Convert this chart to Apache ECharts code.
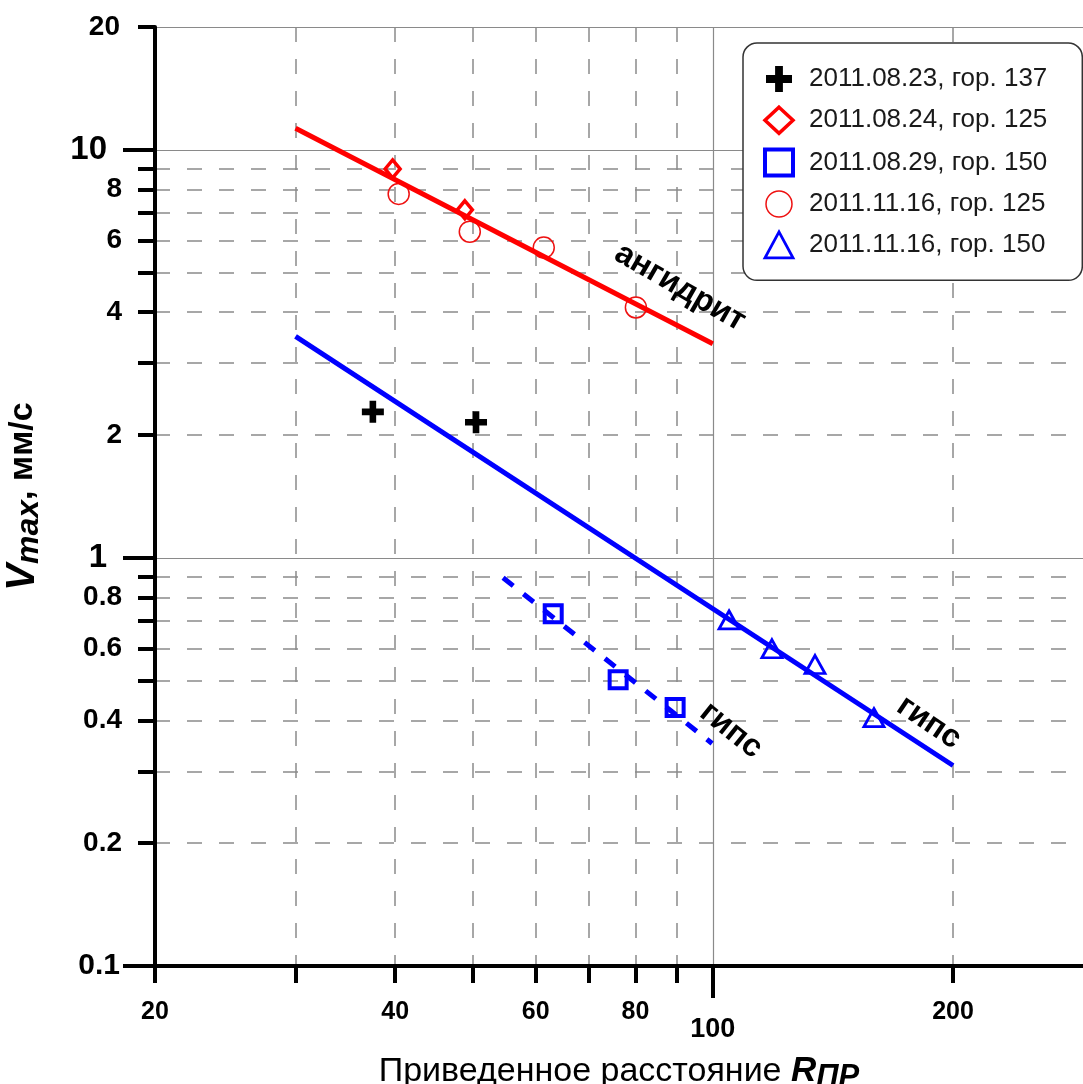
<!DOCTYPE html>
<html><head><meta charset="utf-8">
<script src="https://cdn.jsdelivr.net/npm/echarts@6/dist/echarts.min.js"></script>
<style>html,body{margin:0;padding:0;background:#fff}#c{width:1083px;height:1084px}</style>
</head><body><div id="c"></div>
<script>
// ---- axis ticks / labels ----
const xMinorTicks = [20, 30, 40, 50, 60, 70, 80, 90, 200];
const xMinorLabels = [20, 40, 60, 80, 200];
const xMajorTicks = [100];
const xDashedGrid = [30, 40, 50, 60, 70, 80, 90, 200];
const xSolidGrid = [100];

const yMinorTicks = [0.2, 0.3, 0.4, 0.5, 0.6, 0.7, 0.8, 0.9, 2, 3, 4, 5, 6, 7, 8, 9, 20];
const yMinorLabels = [0.2, 0.4, 0.6, 0.8, 2, 4, 6, 8];
const yMajorTicks = [0.1, 1, 10];
const yMajorLabels = [1, 10];
const yEdgeLabels = [0.1, 20];
const yDashedGrid = [0.2, 0.3, 0.4, 0.5, 0.6, 0.7, 0.8, 0.9, 2, 3, 4, 5, 6, 7, 8, 9];
const ySolidGrid = [1, 10, 20];

// ---- series ----
const seriesNames = ['2011.08.23, гор. 137', '2011.08.24, гор. 125', '2011.08.29, гор. 150', '2011.11.16, гор. 125', '2011.11.16, гор. 150'];
const s1x = [37.5, 50.5];            const s1y = [2.28, 2.15];
const s2x = [39.7, 48.9];            const s2y = [8.98, 7.13];
const s3x = [63.1, 76.1, 89.7];      const s3y = [0.73, 0.503, 0.43];
const s4x = [40.4, 49.6, 61.4, 80.1]; const s4y = [7.8, 6.3, 5.76, 4.11];
const s5x = [104.8, 118.6, 134.3, 159.2]; const s5y = [0.705, 0.599, 0.548, 0.406];

// ---- fitted lines ----
const anhFitX = [30, 100];   const anhFitY = [11.3, 3.35];
const gypFitX = [30, 200];   const gypFitY = [3.49, 0.31];
const gyp2FitX = [54.6, 99.8]; const gyp2FitY = [0.894, 0.351];

// ---- annotations ----
const annoText = ['ангидрит', 'гипс', 'гипс'];
const annoX = [91.0, 105.4, 186.6];
const annoY = [4.6, 0.378, 0.395];
const annoAngle = [-30, -39, -34];

const FF = '"Liberation Sans", Arial, sans-serif';
const zip = (xs, ys) => xs.map((x, i) => [x, ys[i]]);
const fmt = v => String(+(+v).toPrecision(6));

const X_MIN = 20, X_MAX = 291, Y_MIN = 0.1, Y_MAX = 20;

function hiddenX(extra) {
  return Object.assign({
    type: 'log', min: X_MIN, max: X_MAX, position: 'bottom',
    axisLine: { show: false }, axisTick: { show: false }, axisLabel: { show: false }, splitLine: { show: false }
  }, extra);
}
function hiddenY(extra) {
  return Object.assign({
    type: 'log', min: Y_MIN, max: Y_MAX, position: 'left',
    axisLine: { show: false }, axisTick: { show: false }, axisLabel: { show: false }, splitLine: { show: false }
  }, extra);
}
const dashed = { show: true, lineStyle: { color: '#8a8a8a', width: 1.5, type: [15, 17] } };
const solid = { show: true, lineStyle: { color: '#8a8a8a', width: 1.2 } };
const tickStyle = { color: '#000', width: 4 };
const hollow = c => ({ color: 'rgba(255,255,255,0)', borderColor: c, opacity: 1 });

const chart = echarts.init(document.getElementById('c'), null, { renderer: 'canvas' });
chart.setOption({
  animation: false,
  backgroundColor: '#fff',
  textStyle: { fontFamily: FF },
  grid: { left: 155, right: 0, top: 27, bottom: 118, containLabel: false, outerBoundsMode: 'none' },
  xAxis: [
    hiddenX({
      axisLine: { show: true, lineStyle: { color: '#000', width: 4 } },
      axisTick: { show: true, customValues: xMinorTicks, length: 17, lineStyle: tickStyle },
      axisLabel: { show: true, customValues: xMinorLabels, formatter: fmt, fontSize: 25, fontWeight: 'bold', color: '#000', margin: 34, fontFamily: FF },
      name: '{a|Приведенное расстояние }{r|R}{s|ПР}',
      nameLocation: 'middle', nameGap: 84,
      nameTextStyle: {
        fontFamily: FF, color: '#000',
        rich: {
          a: { fontSize: 34, fontFamily: FF, color: '#000' },
          r: { fontSize: 35, fontFamily: FF, fontWeight: 'bold', fontStyle: 'italic', color: '#000' },
          s: { fontSize: 31, fontFamily: FF, fontWeight: 'bold', fontStyle: 'italic', color: '#000', padding: [12, 0, 0, 0] }
        }
      }
    }),
    hiddenX({
      axisTick: { show: true, customValues: xMajorTicks, length: 32, lineStyle: tickStyle },
      axisLabel: { show: true, customValues: xMajorTicks, formatter: fmt, fontSize: 27, fontWeight: 'bold', color: '#000', margin: 50, fontFamily: FF }
    }),
    hiddenX({ axisTick: { show: false, customValues: xSolidGrid }, splitLine: solid }),
    hiddenX({ axisTick: { show: false, customValues: xDashedGrid }, splitLine: dashed })
  ],
  yAxis: [
    hiddenY({
      axisLine: { show: true, lineStyle: { color: '#000', width: 4 } },
      axisTick: { show: true, customValues: yMinorTicks, length: 17, lineStyle: tickStyle },
      axisLabel: { show: true, customValues: yMinorLabels, formatter: fmt, fontSize: 28, fontWeight: 'bold', color: '#000', margin: 33, fontFamily: FF },
      name: '{v|V}{m|max}{u|, мм/с}',
      nameLocation: 'middle', nameGap: 110,
      nameTextStyle: {
        fontFamily: FF, color: '#000',
        rich: {
          v: { fontSize: 40, fontFamily: FF, fontWeight: 'bold', fontStyle: 'italic', color: '#000' },
          m: { fontSize: 32, fontFamily: FF, fontWeight: 'bold', fontStyle: 'italic', color: '#000', padding: [12, 0, 0, 0] },
          u: { fontSize: 34, fontFamily: FF, fontWeight: 'bold', color: '#000' }
        }
      }
    }),
    hiddenY({
      axisTick: { show: true, customValues: yMajorTicks, length: 32, lineStyle: tickStyle },
      axisLabel: { show: true, customValues: yMajorLabels, formatter: fmt, fontSize: 33, fontWeight: 'bold', color: '#000', margin: 48, fontFamily: FF }
    }),
    hiddenY({
      axisTick: { show: false, customValues: ySolidGrid },
      axisLabel: { show: true, customValues: yEdgeLabels, formatter: v => (+v === 20 ? '{m|20}' : '{b|0.1}'), margin: 35,
        rich: { m: { fontSize: 28, fontWeight: 'bold', color: '#000', fontFamily: FF }, b: { fontSize: 30, fontWeight: 'bold', color: '#000', fontFamily: FF } } },
      splitLine: solid
    }),
    hiddenY({ axisTick: { show: false, customValues: yDashedGrid }, splitLine: dashed })
  ],
  legend: {
    data: seriesNames, orient: 'vertical', left: 743, top: 43,
    padding: [22, 35, 21, 20], itemGap: 12.5, itemWidth: 28, itemHeight: 26,
    symbolKeepAspect: true,
    backgroundColor: '#fff', borderColor: '#333', borderWidth: 1.5, borderRadius: 14,
    selectedMode: false,
    itemStyle: { borderWidth: 'inherit', opacity: 1 },
    textStyle: { fontSize: 26, lineHeight: 28, color: '#1a1a1a', fontFamily: FF, padding: [0, 0, 0, 11] }
  },
  series: [
    { type: 'line', name: 'anhFit', data: zip(anhFitX, anhFitY), symbol: 'none', lineStyle: { color: '#ff0000', width: 5 }, z: 3 },
    { type: 'line', name: 'gypFit', data: zip(gypFitX, gypFitY), symbol: 'none', lineStyle: { color: '#0000ff', width: 5 }, z: 3 },
    { type: 'line', name: 'gyp2Fit', data: zip(gyp2FitX, gyp2FitY), symbol: 'none', lineStyle: { color: '#0000ff', width: 5, type: [13, 13] }, z: 3 },
    { type: 'scatter', name: seriesNames[0], data: zip(s1x, s1y), symbol: 'path://M7,0H13V7H20V13H13V20H7V13H0V7H7Z', symbolSize: 22,
      itemStyle: { color: '#000', borderWidth: 0, opacity: 1 }, z: 4 },
    { type: 'scatter', name: seriesNames[1], data: zip(s2x, s2y), symbol: 'diamond', symbolSize: [15, 18],
      itemStyle: Object.assign(hollow('#ff0000'), { borderWidth: 3.5 }), z: 4 },
    { type: 'scatter', name: seriesNames[2], data: zip(s3x, s3y), symbol: 'rect', symbolSize: 17,
      itemStyle: Object.assign(hollow('#0000ff'), { borderWidth: 4 }), z: 4 },
    { type: 'scatter', name: seriesNames[3], data: zip(s4x, s4y), symbol: 'circle', symbolSize: 21,
      itemStyle: Object.assign(hollow('#ee1111'), { borderWidth: 1.5 }), z: 2 },
    { type: 'scatter', name: seriesNames[4], data: zip(s5x, s5y), symbol: 'triangle', symbolSize: [20, 18],
      itemStyle: Object.assign(hollow('#0000ff'), { borderWidth: 2.8 }), z: 4 },
    { type: 'scatter', name: 'annotations', silent: true, symbolSize: 1,
      itemStyle: { color: 'rgba(0,0,0,0)', opacity: 1 }, z: 5,
      data: annoText.map((t, i) => ({
        value: [annoX[i], annoY[i]],
        label: { show: true, formatter: t, rotate: annoAngle[i], position: 'inside',
          fontSize: 32, fontWeight: 'bold', color: '#000', fontFamily: FF }
      }))
    }
  ]
});
</script></body></html>
